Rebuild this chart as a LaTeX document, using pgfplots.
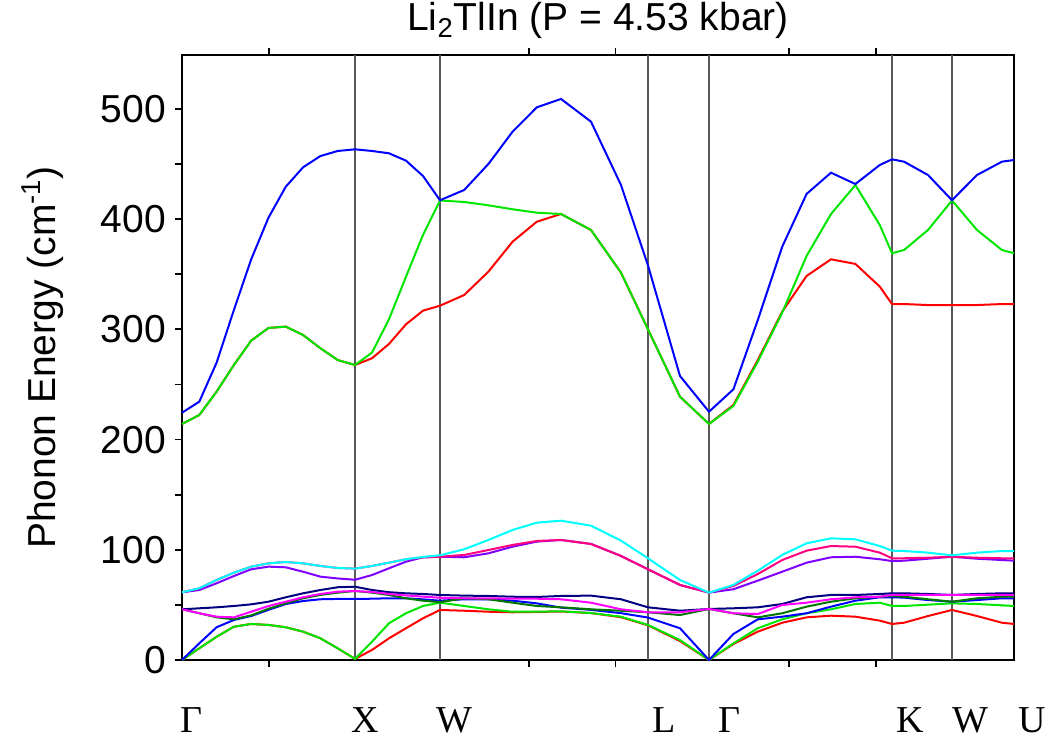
\documentclass[border=0pt]{standalone}
\usepackage{fontspec}
\setmainfont{Liberation Sans}
\newfontfamily\serifx{Liberation Serif}
\usepackage{pgfplots}
\pgfplotsset{compat=1.18}
\usepackage{pgfplotstable}

\definecolor{cRed}{RGB}{255,0,0}
\definecolor{cGreen}{RGB}{0,230,0}
\definecolor{cBlue}{RGB}{0,0,255}
\definecolor{cDGreen}{RGB}{0,120,0}
\definecolor{cMag}{RGB}{255,0,255}
\definecolor{cNavy}{RGB}{0,0,128}
\definecolor{cPurple}{RGB}{128,0,255}
\definecolor{cPink}{RGB}{255,0,128}
\definecolor{cCyan}{RGB}{0,255,255}

\pgfplotstableread{
x b1 b2 b3 b4 b5 b6 b7 b8 b9 b10 b11 b12
0 0 0 0 46.0 46.0 46.0 61.4 61.4 61.4 214.2 214.2 224.4
17.3 10.6 10.6 15.1 42.4 42.4 46.9 63.5 65.1 65.1 222.3 222.3 234.4
34.6 21.1 21.1 29.7 38.7 39.3 47.8 69.6 72.6 72.6 243.5 243.5 269.8
51.9 30.2 30.2 36.3 36.9 38.7 49.0 76.2 79.2 79.2 267.7 267.7 317.6
69.2 32.7 32.7 39.9 40.5 43.8 50.5 82.3 84.7 84.7 289.8 289.8 363.6
86.5 31.8 31.8 45.5 46.5 49.0 52.9 84.7 87.7 87.7 301.3 301.3 401.4
103.8 29.7 29.7 50.8 51.4 52.9 56.9 84.1 88.9 88.9 302.5 302.5 429.5
121.1 25.7 25.7 53.5 56.0 56.9 60.5 80.1 87.7 87.7 294.9 294.9 447.1
138.4 19.7 19.7 55.1 59.0 59.9 63.5 75.6 85.3 85.3 282.9 282.9 457.3
155.7 10.6 10.6 55.4 61.1 62.0 66.0 74.0 83.5 83.5 272.2 272.2 461.9
173 1.0 1.0 55.4 62.6 62.6 66.5 72.8 82.9 82.9 267.7 267.7 463.4
190 9.1 16.6 55.6 61.1 61.7 63.5 77.1 85.3 85.3 273.8 278.9 461.9
207 19.7 33.3 56.0 59.0 59.9 61.5 83.2 88.3 88.3 286.8 309.2 459.8
224 28.8 42.4 56.0 56.0 58.6 60.5 89.2 91.4 91.4 304.6 347.8 453.1
241 37.8 49.0 55.0 53.8 57.5 59.9 93.2 93.0 93.5 317.0 385.7 439.2
258 45.4 52.0 53.8 52.5 56.5 59.0 93.7 93.7 95.0 321.5 417.0 417.2
282.2 44.7 49.0 55.1 56.0 56.0 58.4 93.2 95.3 100.5 331.2 415.6 426.5
306.4 43.8 46.0 55.1 55.1 56.0 58.1 96.8 99.8 108.9 352.4 412.6 450.1
330.6 43.3 43.8 53.8 52.0 55.6 57.4 102.8 104.4 118.0 379.6 409.0 479.4
354.8 43.6 43.8 51.4 49.0 55.6 57.2 107.4 108.0 124.6 397.7 405.9 501.5
379 44.0 44.2 47.5 47.8 55.1 58.1 108.9 108.9 126.4 404.7 404.7 509.1
409 42.6 42.6 45.5 46.0 52.0 58.4 105.3 105.3 121.9 390.2 390.2 488.5
439 38.8 39.3 42.5 44.7 46.0 55.1 94.4 94.4 108.3 351.5 351.5 431.0
466 31.5 31.8 38.5 43.3 43.3 47.8 82.3 82.3 92.3 300.0 300.0 358.0
498 17.2 18.1 28.8 40.8 43.3 44.7 68.1 68.1 72.6 238.9 238.9 257.7
527 0 0 0 46.3 46.3 46.3 61.1 61.1 61.1 214.2 214.2 225.3
551.4 14.5 15.1 23.6 42.4 42.4 46.9 64.2 67.2 68.1 231.4 230.5 245.6
575.8 25.7 28.8 36.9 38.7 41.7 47.8 72.0 78.0 81.0 272.2 270.7 308.5
600.2 33.8 36.9 39.3 42.4 49.9 50.8 80.1 90.7 95.3 316.1 315.2 375.0
624.6 38.7 42.4 42.4 48.4 52.0 56.9 88.3 99.2 105.9 348.5 366.6 422.9
649 40.2 46.0 48.4 52.9 55.1 59.0 93.2 103.4 110.4 363.6 404.7 442.2
673.4 39.3 50.8 53.8 56.0 56.9 59.0 93.7 102.8 109.5 359.4 431.0 431.9
697.8 35.7 52.0 56.9 57.4 57.4 59.9 91.4 97.4 103.4 338.8 394.7 449.2
710 32.7 49.0 56.9 58.1 59.0 60.5 89.8 92.3 99.2 323.0 369.1 454.3
722 33.8 49.0 56.6 57.4 59.0 60.5 90.1 92.3 98.9 323.0 372.0 452.2
746 39.9 50.2 54.4 55.1 59.0 59.9 91.9 92.8 97.4 322.1 390.2 440.1
770 45.4 51.4 52.9 52.9 59.0 59.0 93.7 93.7 95.0 322.1 417.0 417.2
795 39.9 50.8 54.4 56.0 59.0 59.9 91.9 92.8 97.4 322.1 390.2 440.1
820 33.8 49.6 56.0 57.4 59.0 60.5 90.7 92.3 98.9 323.0 372.0 452.2
832 32.7 49.0 56.0 57.4 59.0 60.5 90.1 92.3 98.9 323.0 369.1 453.7
}\bands

\begin{document}
\begin{tikzpicture}
\useasboundingbox (-91pt,-41pt) rectangle (432pt,330pt);
\begin{axis}[
  scale only axis, width=416pt, height=302.5pt,
  xmin=0, xmax=832, ymin=0, ymax=549,
  clip=false,
  axis line style={line width=1.2pt},
  tick align=outside,
  major tick length=3.5pt, minor tick length=3.5pt,
  tick style={line width=0.9pt, black},
  ytick={0,100,200,300,400,500},
  minor ytick={50,150,250,350,450},
  ytick pos=left,
  xtick={86.7,346.8,433.5,606.9,693.6},
  xticklabels={},
  extra x ticks={173,258,466,527,710,770},
  extra x tick labels={},
  extra x tick style={grid=major, major tick length=0pt},
  major grid style={line width=0.6pt, black!65},
  /pgf/number format/assume math mode=true,
  yticklabel style={font=\fontsize{19.5}{23}\selectfont, xshift=-1pt},
  ylabel={Phonon Energy (cm\textsuperscript{-1})},
  ylabel style={at={(axis description cs:-0.168,0.5)}, anchor=center, font=\fontsize{19.5}{23}\selectfont},
  title={Li\textsubscript{2}TlIn (P = 4.53 kbar)},
  title style={at={(axis description cs:0.5,1)}, anchor=base, yshift=6pt, font=\fontsize{19.5}{23}\selectfont},
  every axis plot/.append style={line width=1pt},
]
\addplot[cRed] table[x=x,y=b1]{\bands};
\addplot[cGreen] table[x=x,y=b2]{\bands};
\addplot[cBlue] table[x=x,y=b3]{\bands};
\addplot[cDGreen] table[x=x,y=b4]{\bands};
\addplot[cNavy] table[x=x,y=b6]{\bands};
\addplot[cMag] table[x=x,y=b5]{\bands};
\addplot[cPurple] table[x=x,y=b7]{\bands};
\addplot[cPink] table[x=x,y=b8]{\bands};
\addplot[cCyan] table[x=x,y=b9]{\bands};
\addplot[cRed] table[x=x,y=b10]{\bands};
\addplot[cGreen] table[x=x,y=b11]{\bands};
\addplot[cBlue] table[x=x,y=b12]{\bands};
\begin{scope}[every node/.style={anchor=base, font=\serifx\fontsize{19}{22}\selectfont, inner sep=0pt}]
\node at ([yshift=-36.5pt]axis cs:9,0) {Γ};
\node at ([yshift=-36.5pt]axis cs:183,0) {X};
\node at ([yshift=-36.5pt]axis cs:272,0) {W};
\node at ([yshift=-36.5pt]axis cs:482,0) {L};
\node at ([yshift=-36.5pt]axis cs:547,0) {Γ};
\node at ([yshift=-36.5pt]axis cs:728,0) {K};
\node at ([yshift=-36.5pt]axis cs:788,0) {W};
\node at ([yshift=-36.5pt]axis cs:850,0) {U};
\end{scope}
\end{axis}
\end{tikzpicture}
\end{document}
